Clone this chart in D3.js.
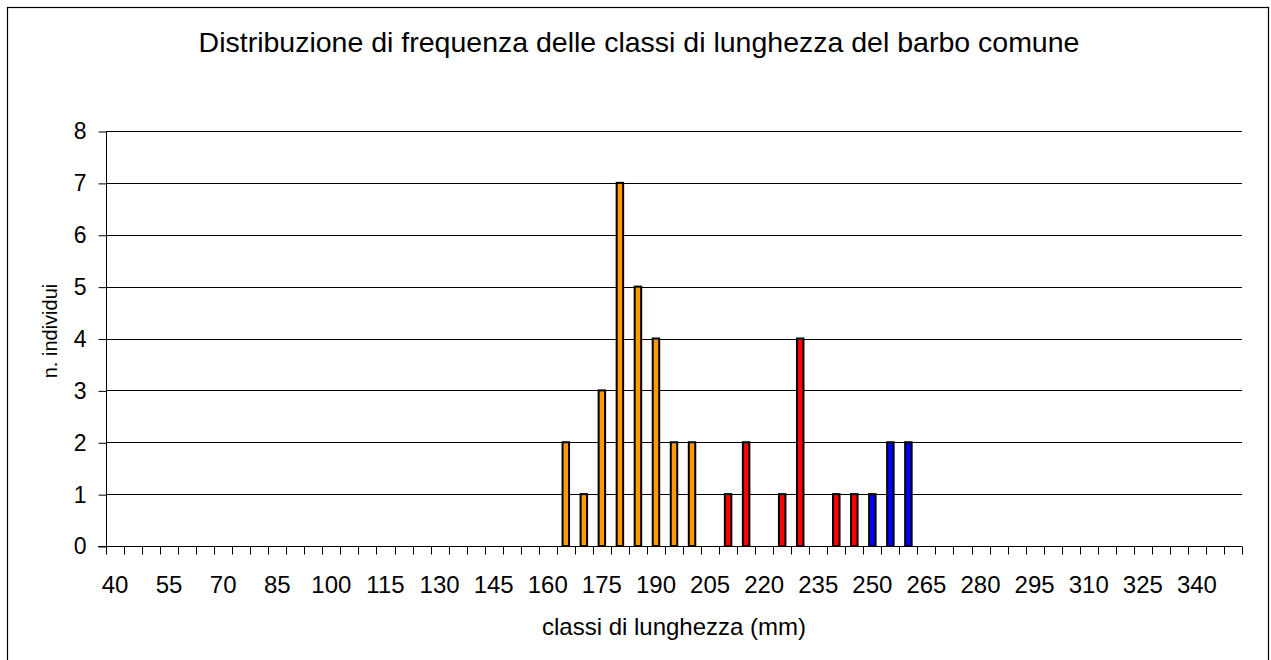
<!DOCTYPE html>
<html>
<head>
<meta charset="utf-8">
<script src="https://cdn.jsdelivr.net/npm/d3@7"></script>
<style>
  body { margin: 0; background: #fff; }
  text { font-family: "Liberation Sans", Arial, sans-serif; fill: #000; }
</style>
</head>
<body>
<script>

// classes of length (mm)
let classes = [40, 45, 50, 55, 60, 65, 70, 75, 80, 85, 90, 95, 100, 105, 110, 115,
	120, 125, 130, 135, 140, 145, 150, 155, 160, 165, 170, 175, 180, 185, 190, 195,
	200, 205, 210, 215, 220, 225, 230, 235, 240, 245, 250, 255, 260, 265, 270, 275,
	280, 285, 290, 295, 300, 305, 310, 315, 320, 325, 330, 335, 340, 345, 350];

// number of fish per class
let counts = [0, 0, 0, 0, 0, 0, 0, 0, 0, 0, 0, 0, 0, 0, 0, 0,
	0, 0, 0, 0, 0, 0, 0, 0, 0, 2, 1, 3, 7, 5, 4, 2,
	2, 0, 1, 2, 0, 1, 4, 0, 1, 1, 1, 2, 2, 0, 0, 0,
	0, 0, 0, 0, 0, 0, 0, 0, 0, 0, 0, 0, 0, 0, 0];

// colour groups by class
let orangeClasses = [165, 170, 175, 180, 185, 190, 195, 200];
let redClasses = [210, 215, 225, 230, 240, 245];
let blueClasses = [250, 255, 260];

let yTicks = [0, 1, 2, 3, 4, 5, 6, 7, 8];
let xLabels = [40, 55, 70, 85, 100, 115, 130, 145, 160, 175, 190, 205, 220, 235,
	250, 265, 280, 295, 310, 325, 340];

let width = 1271;
let height = 660;

let margins = {
	top: 131,
	right: 29,
	bottom: 114,
	left: 106
};

let xScale = d3.scaleBand()
	.domain(classes)
	.range([margins.left, width - margins.right])
	.padding(0);

let yScale = d3.scaleLinear()
	.domain([0, 8])
	.range([height - margins.bottom, margins.top]);

function barColor(c) {
	if (orangeClasses.includes(c)) return "#FF9900";
	if (redClasses.includes(c)) return "#FF0000";
	if (blueClasses.includes(c)) return "#0000FF";
	return "#999";
}

let svg = d3.select("body")
	.append("svg")
		.attr("width", width)
		.attr("height", height);

// outer frame
svg.append("rect")
	.attr("x", 7.5)
	.attr("y", 7.5)
	.attr("width", 1261)
	.attr("height", 700)
	.style("fill", "none")
	.style("stroke", "#000")
	.style("stroke-width", 1.2);

// title
svg.append("text")
	.attr("x", 639)
	.attr("y", 52)
	.attr("text-anchor", "middle")
	.style("font-size", "28.5px")
	.text("Distribuzione di frequenza delle classi di lunghezza del barbo comune");

// gridlines
svg.append("g")
	.selectAll("line")
	.data(yTicks.filter(d => d > 0))
	.join("line")
		.attr("x1", margins.left)
		.attr("x2", width - margins.right)
		.attr("y1", d => Math.round(yScale(d)) + 0.5)
		.attr("y2", d => Math.round(yScale(d)) + 0.5)
		.style("stroke", "#000")
		.style("stroke-width", 1);

// y axis
let yAxis = d3.axisLeft(yScale)
	.tickValues(yTicks)
	.tickSize(8)
	.tickPadding(12)
	.tickFormat(d3.format("d"));

let yg = svg.append("g")
	.attr("transform", "translate(" + (margins.left + 0.5) + ",0.5)")
	.call(yAxis);
yg.select(".domain").attr("d", "M0," + yScale(8) + "V" + yScale(0)).style("stroke", "#000");
yg.selectAll(".tick line").style("stroke", "#000");
yg.selectAll("text").style("font-size", "23px").attr("font-family", null);

// x axis: ticks at category boundaries
let xg = svg.append("g")
	.attr("transform", "translate(0," + (Math.round(yScale(0)) + 0.5) + ")");

xg.append("line")
	.attr("x1", margins.left - 8)
	.attr("x2", width - margins.right)
	.style("stroke", "#000");

xg.selectAll(".xtick")
	.data(classes.concat(["end"]))
	.join("line")
		.attr("class", "xtick")
		.attr("x1", d => Math.round(d === "end" ? xScale.range()[1] : xScale(d)) + 0.5)
		.attr("x2", d => Math.round(d === "end" ? xScale.range()[1] : xScale(d)) + 0.5)
		.attr("y1", 0)
		.attr("y2", 8)
		.style("stroke", "#000");

xg.selectAll(".xlabel")
	.data(xLabels)
	.join("text")
		.attr("class", "xlabel")
		.attr("x", d => xScale(d) + xScale.bandwidth() / 2)
		.attr("y", 46)
		.attr("text-anchor", "middle")
		.style("font-size", "24px")
		.text(d => d);

// bars
let barW = 6.5;
svg.append("g")
	.selectAll("rect")
	.data(classes.map((c, i) => ({ c: c, n: counts[i] })).filter(d => d.n > 0))
	.join("rect")
		.attr("x", d => xScale(d.c) + xScale.bandwidth() / 2 - barW / 2)
		.attr("y", d => yScale(d.n))
		.attr("width", barW)
		.attr("height", d => yScale(0) - yScale(d.n))
		.style("fill", d => barColor(d.c))
		.style("stroke", "#000")
		.style("stroke-width", 2);

// axis titles
svg.append("text")
	.attr("x", 674)
	.attr("y", 635)
	.attr("text-anchor", "middle")
	.style("font-size", "24px")
	.text("classi di lunghezza (mm)");

svg.append("text")
	.attr("transform", "translate(57," + 331 + ") rotate(-90)")
	.attr("text-anchor", "middle")
	.style("font-size", "20px")
	.text("n. individui");

</script>
</body>
</html>
